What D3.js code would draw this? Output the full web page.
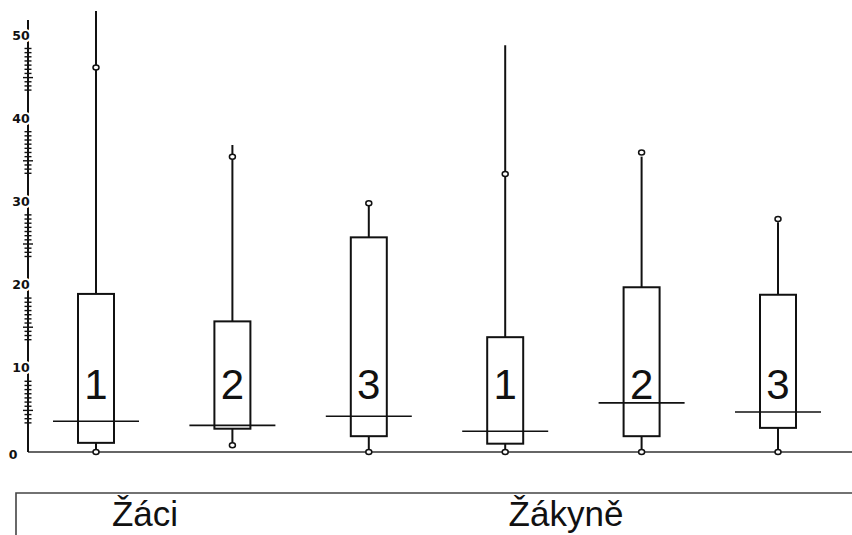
<!DOCTYPE html>
<html><head><meta charset="utf-8">
<script src="https://cdn.jsdelivr.net/npm/d3@7"></script>
<style>body{margin:0;background:#fff}svg{display:block}</style>
</head><body>
<script>
// Data
const groups = ["Žáci","Žáci","Žáci","Žákyně","Žákyně","Žákyně"];
const boxLabels = ["1","2","3","1","2","3"];
const lowWhisker = [0, 0.8, 0, 0, 0, 0];
const q1 = [1.1, 2.8, 1.9, 1.0, 1.9, 2.9];
const median = [3.7, 3.2, 4.3, 2.5, 5.9, 4.8];
const q3 = [19, 15.7, 25.8, 13.8, 19.8, 18.9];
const highWhisker = [53, 36.9, 29.9, 48.9, 35.5, 27.6];
const highMark = [46.2, 35.5, 29.9, 33.4, 36, 28];
const yTicks = [0, 10, 20, 30, 40, 50];
const groupNames = ["Žáci", "Žákyně"];

const W = 852, H = 535;
const svg = d3.select("body").append("svg").attr("width", W).attr("height", H);

const y = d3.scaleLinear().domain([0, 50]).range([452, 36]);
const x = d3.scalePoint().domain(d3.range(boxLabels.length)).range([96, 778]);
const axisX = 28;
const ink = "#111";

// baseline
svg.append("line").attr("x1", axisX).attr("x2", W).attr("y1", y(0)).attr("y2", y(0))
  .attr("stroke", "#333").attr("stroke-width", 1.6);

// y axis line
svg.append("line").attr("x1", axisX).attr("x2", axisX).attr("y1", 20).attr("y2", y(0))
  .attr("stroke", ink).attr("stroke-width", 2);

// minor ticks
const minor = [];
yTicks.filter(t => t > 0).forEach(t => {
  for (let v = t - 1.5; v >= t - 6.5; v -= 0.5) minor.push(v);
});
svg.append("g").selectAll("line").data(minor).join("line")
  .attr("x1", v => axisX - ((Math.abs(v % 5) < 0.01) ? 5 : 3.5))
  .attr("x2", v => axisX + ((Math.abs(v % 5) < 0.01) ? 5 : 3.5))
  .attr("y1", v => y(v)).attr("y2", v => y(v))
  .attr("stroke", ink).attr("stroke-width", 1.4);

// tick labels
svg.append("g").selectAll("text").data(yTicks).join("text")
  .attr("x", d => d === 0 ? 13 : 21).attr("y", d => y(d) + (d === 0 ? 3 : 0))
  .attr("text-anchor", "middle").attr("dominant-baseline", "middle")
  .attr("font-family", "DejaVu Sans, Arial, sans-serif").attr("font-weight", "bold")
  .attr("font-size", 12.5)
  .attr("stroke", "#fff").attr("stroke-width", 4).attr("paint-order", "stroke")
  .attr("fill", ink)
  .text(d => d);

const idx = d3.range(boxLabels.length);
const bw = 36, mw = 86;
const g = svg.append("g");

// whiskers
g.selectAll(".wh").data(idx).join("line")
  .attr("x1", i => x(i)).attr("x2", i => x(i))
  .attr("y1", i => y(highWhisker[i])).attr("y2", i => y(q3[i]))
  .attr("stroke", ink).attr("stroke-width", 2);
g.selectAll(".wl").data(idx).join("line")
  .attr("x1", i => x(i)).attr("x2", i => x(i))
  .attr("y1", i => y(q1[i])).attr("y2", i => y(lowWhisker[i]))
  .attr("stroke", ink).attr("stroke-width", 2);

// boxes
g.selectAll("rect").data(idx).join("rect")
  .attr("x", i => x(i) - bw / 2).attr("width", bw)
  .attr("y", i => y(q3[i])).attr("height", i => y(q1[i]) - y(q3[i]))
  .attr("fill", "none").attr("stroke", ink).attr("stroke-width", 2);

// medians
g.selectAll(".med").data(idx).join("line")
  .attr("x1", i => x(i) - mw / 2).attr("x2", i => x(i) + mw / 2)
  .attr("y1", i => y(median[i])).attr("y2", i => y(median[i]))
  .attr("stroke", ink).attr("stroke-width", 1.6);

// markers
g.selectAll(".mh").data(idx).join("ellipse")
  .attr("cx", i => x(i)).attr("cy", i => y(highMark[i]))
  .attr("rx", 3).attr("ry", 2.5)
  .attr("fill", "#fff").attr("stroke", ink).attr("stroke-width", 1.5);
g.selectAll(".ml").data(idx).join("ellipse")
  .attr("cx", i => x(i)).attr("cy", i => y(lowWhisker[i]))
  .attr("rx", 3).attr("ry", 2.5)
  .attr("fill", "#fff").attr("stroke", ink).attr("stroke-width", 1.5);

// box numbers
g.selectAll(".lab").data(idx).join("text")
  .attr("x", i => x(i)).attr("y", 399)
  .attr("text-anchor", "middle")
  .attr("font-family", "Liberation Sans, Arial, sans-serif").attr("font-size", 42)
  .attr("fill", ink)
  .text(i => boxLabels[i]);

// bottom group panel
svg.append("path").attr("d", `M16,${H} L16,493 L${W},493`)
  .attr("fill", "none").attr("stroke", "#444").attr("stroke-width", 1.6);
const gx = [145, 566];
svg.append("g").selectAll("text").data(groupNames).join("text")
  .attr("x", (d, i) => gx[i]).attr("y", 526)
  .attr("text-anchor", "middle")
  .attr("font-family", "Liberation Sans, Arial, sans-serif").attr("font-size", 35)
  .attr("fill", ink)
  .text(d => d);
</script>
</body></html>
